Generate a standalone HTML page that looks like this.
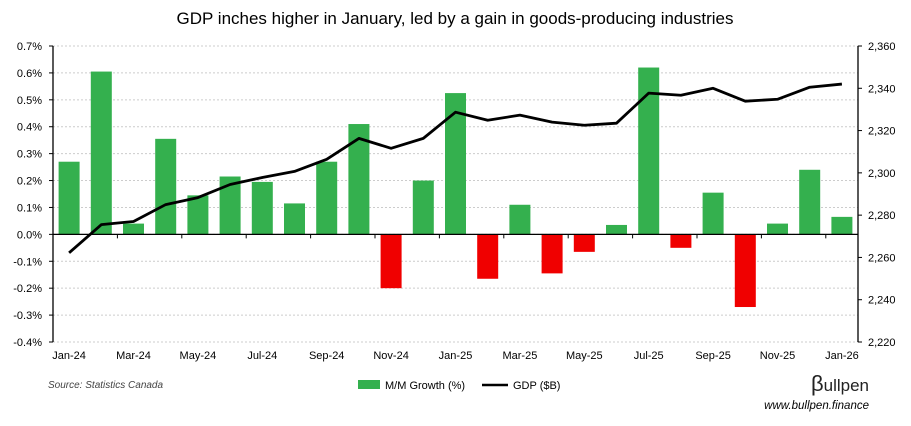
<!DOCTYPE html>
<html><head><meta charset="utf-8"><style>
body{margin:0;background:#fff;font-family:"Liberation Sans",sans-serif;}
svg text{font-family:"Liberation Sans",sans-serif;}
</style></head><body>
<svg id="c" width="911" height="421">
<text x="455" y="24" text-anchor="middle" font-size="17" fill="#000">GDP inches higher in January, led by a gain in goods-producing industries</text>
<g id="grid"></g><g id="bars"></g><g id="axes"></g><g id="line"></g>
<text x="48" y="388" font-size="10" font-style="italic" fill="#444">Source: Statistics Canada</text>
<g>
<rect x="358" y="380" width="22" height="9" fill="#34b04e"/>
<text x="385" y="389" font-size="11">M/M Growth (%)</text>
<line x1="482" y1="385" x2="508" y2="385" stroke="#000" stroke-width="2.5"/>
<text x="513" y="389" font-size="11">GDP ($B)</text>
</g>
<text x="869" y="391" text-anchor="end" font-size="17" fill="#222"><tspan font-size="22">β</tspan>ullpen</text>
<text x="869" y="409" text-anchor="end" font-size="11.5" font-style="italic" fill="#000">www.bullpen.finance</text>
</svg>
<script>
const months=["Jan-24","Feb-24","Mar-24","Apr-24","May-24","Jun-24","Jul-24","Aug-24","Sep-24","Oct-24","Nov-24","Dec-24","Jan-25","Feb-25","Mar-25","Apr-25","May-25","Jun-25","Jul-25","Aug-25","Sep-25","Oct-25","Nov-25","Dec-25","Jan-26"];
const growth=[0.27,0.605,0.04,0.355,0.145,0.215,0.195,0.115,0.27,0.41,-0.2,0.2,0.525,-0.165,0.11,-0.145,-0.065,0.035,0.62,-0.05,0.155,-0.27,0.04,0.24,0.065];
const gdp=[2262.2,2275.5,2277,2285,2288.3,2294.5,2297.8,2300.7,2306.4,2316.3,2311.6,2316.3,2328.7,2324.9,2327.3,2324,2322.5,2323.5,2337.7,2336.7,2340,2333.9,2334.8,2340.5,2342];
const leftTicks=[0.7,0.6,0.5,0.4,0.3,0.2,0.1,0,-0.1,-0.2,-0.3,-0.4];
const rightTicks=[2360,2340,2320,2300,2280,2260,2240,2220];
const L=53,R=858,T=46,B=342,NS="http://www.w3.org/2000/svg";
const step=(R-L)/months.length;
const xc=i=>L+step*(i+0.5);
const yL=v=>T+(0.7-v)/1.1*(B-T);
const yR=v=>T+(2360-v)/140*(B-T);
function mk(t,a,p){const e=document.createElementNS(NS,t);for(const k in a)e.setAttribute(k,a[k]);document.getElementById(p).appendChild(e);return e;}
leftTicks.forEach(v=>{
 const g=mk("line",{x1:L,x2:R,y1:yL(v),y2:yL(v),stroke:"#ccc","stroke-dasharray":"2,2"},"grid");
 
 
 const t=mk("text",{x:42,y:yL(v)+4,"text-anchor":"end","font-size":"11"},"axes");
 t.textContent=v.toFixed(1)+"%";
 
 
 mk("line",{x1:L-4,x2:L,y1:yL(v),y2:yL(v),stroke:"#000"},"axes");
});
rightTicks.forEach(v=>{
 const t=mk("text",{x:868,y:yR(v)+4,"font-size":"11"},"axes");
 t.textContent=v.toLocaleString("en-US");
 
 
 mk("line",{x1:R,x2:R+4,y1:yR(v),y2:yR(v),stroke:"#000"},"axes");
});
growth.forEach((v,i)=>{
 const y0=yL(0),y1=yL(v);
 const b=mk("rect",{x:xc(i)-10.5,width:21,y:Math.min(y0,y1),height:Math.abs(y1-y0),fill:v>=0?"#34b04e":"#f00000"},"bars");
 
 
});
mk("line",{x1:L,x2:L,y1:T,y2:B,stroke:"#000","stroke-width":1.3},"axes");
mk("line",{x1:R,x2:R,y1:T,y2:B,stroke:"#000","stroke-width":1.3},"axes");
mk("line",{x1:L,x2:R,y1:yL(0),y2:yL(0),stroke:"#000","stroke-width":1.3},"axes");
months.forEach((m,i)=>{
 if(i%2==0){
  const t=mk("text",{x:xc(i),y:359,"text-anchor":"middle","font-size":"11"},"axes");
  t.textContent=m;
  
  
 } else {
  mk("line",{x1:xc(i)+step/2,x2:xc(i)+step/2,y1:yL(0),y2:yL(0)+4,stroke:"#000"},"axes");
 }
});
const p=mk("polyline",{points:gdp.map((v,i)=>xc(i)+","+yR(v)).join(" "),fill:"none",stroke:"#000","stroke-width":2.8,"stroke-linejoin":"round"},"line");


</script>
</body></html>
